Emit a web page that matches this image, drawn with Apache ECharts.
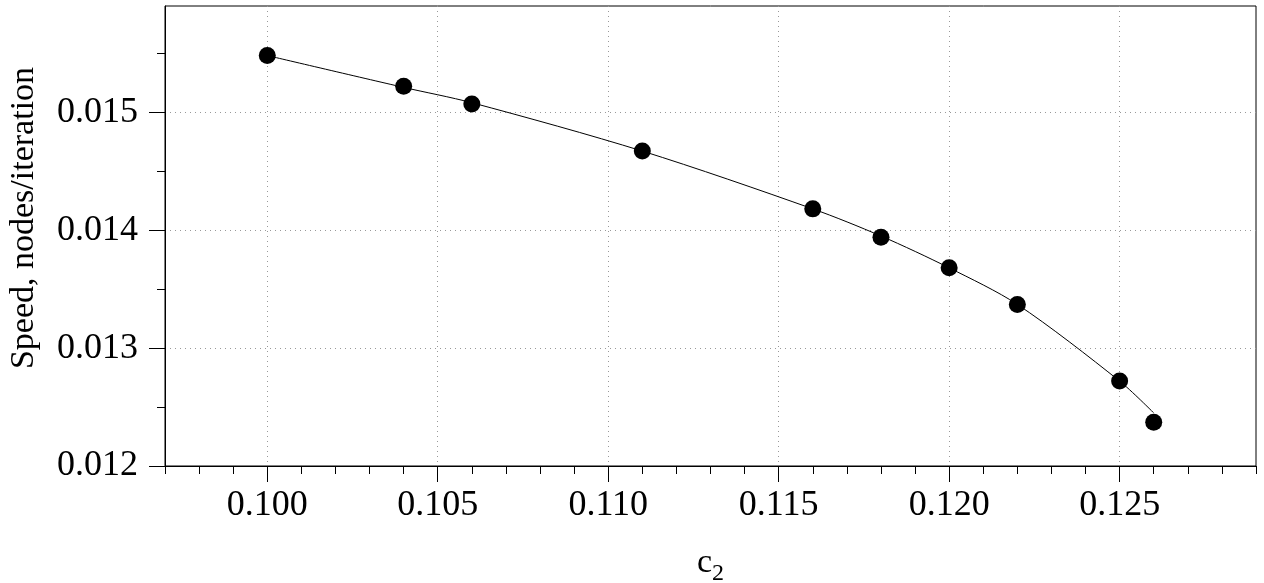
<!DOCTYPE html>
<html>
<head>
<meta charset="utf-8">
<script src="https://cdn.jsdelivr.net/npm/echarts@6/dist/echarts.min.js"></script>
<style>
  html, body { margin: 0; padding: 0; background: #fff; }
  #main { width: 1264px; height: 583px; }
</style>
</head>
<body>
<div id="main"></div>
<script>
// measured points
var c2Values = [0.100, 0.104, 0.106, 0.111, 0.116, 0.118, 0.120, 0.122, 0.125, 0.126];
var speedValues = [0.01548, 0.01522, 0.01507, 0.01467, 0.01418, 0.01394, 0.01368, 0.01337, 0.01272, 0.01237];
// fitted curve
var fitX = [0.100, 0.104, 0.106, 0.111, 0.116, 0.118, 0.120, 0.122, 0.125, 0.126];
var fitY = [0.01548, 0.01521, 0.01508, 0.01467, 0.01418, 0.01395, 0.01368, 0.01337, 0.01272, 0.01245];
// ticks
var xMajorTicks = [0.100, 0.105, 0.110, 0.115, 0.120, 0.125];
var yMajorTicks = [0.012, 0.013, 0.014, 0.015];
var yMinorTicks = [0.0125, 0.0135, 0.0145, 0.0155];

var font = "Liberation Serif";
var chart = echarts.init(document.getElementById("main"));

function pairs(xs, ys) {
  return xs.map(function (x, i) { return [x, ys[i]]; });
}

var splitStyle = { color: "#999", type: [1, 4], width: 1 };

var option = {
  animation: false,
  grid: {
    left: 165, right: 8, top: 6, bottom: 117,
    show: true, borderColor: "#000", borderWidth: 1,
    containLabel: false, outerBoundsMode: "none"
  },
  xAxis: [
    {
      type: "value", min: 0.097, max: 0.129, position: "bottom",
      axisLine: { show: true, lineStyle: { color: "#000", width: 1 } },
      axisTick: { show: true, customValues: xMajorTicks, length: 16, lineStyle: { color: "#000" } },
      axisLabel: {
        customValues: xMajorTicks, margin: 22,
        formatter: function (v) { return v.toFixed(3); },
        fontFamily: font, fontSize: 36, color: "#000"
      },
      splitLine: { show: true, lineStyle: splitStyle },
      name: "{c|c}{sub|2}",
      nameLocation: "middle", nameGap: 80,
      nameTextStyle: {
        rich: {
          c: { fontFamily: font, fontSize: 34, color: "#000", verticalAlign: "top" },
          sub: { fontFamily: font, fontSize: 24, color: "#000", verticalAlign: "bottom", padding: [16, 0, 0, 0] }
        }
      }
    },
    {
      type: "value", min: 0.097, max: 0.129, interval: 0.001, position: "bottom",
      axisLine: { show: false },
      axisTick: { show: true, length: 8, lineStyle: { color: "#000" } },
      axisLabel: { show: false },
      splitLine: { show: false }
    }
  ],
  yAxis: [
    {
      type: "value", min: 0.012, max: 0.0159, position: "left",
      axisLine: { show: true, lineStyle: { color: "#000", width: 1 } },
      axisTick: { show: true, customValues: yMajorTicks, length: 16, lineStyle: { color: "#000" } },
      axisLabel: {
        customValues: yMajorTicks, margin: 27,
        formatter: function (v) { return v.toFixed(3); },
        fontFamily: font, fontSize: 36, color: "#000"
      },
      splitLine: { show: true, lineStyle: splitStyle },
      name: "Speed, nodes/iteration",
      nameLocation: "middle", nameGap: 124,
      nameTextStyle: { fontFamily: font, fontSize: 34, color: "#000", padding: [0, 0, 0, 36] }
    },
    {
      type: "value", min: 0.012, max: 0.0159, position: "left",
      axisLine: { show: false },
      axisTick: { show: true, customValues: yMinorTicks, length: 8, lineStyle: { color: "#000" } },
      axisLabel: { show: false },
      splitLine: { show: false }
    }
  ],
  series: [
    {
      name: "fit", type: "line", xAxisIndex: 0, yAxisIndex: 0,
      data: pairs(fitX, fitY),
      smooth: 0.3, showSymbol: false, symbol: "none",
      lineStyle: { color: "#000", width: 1 }, z: 2
    },
    {
      name: "speed", type: "scatter", xAxisIndex: 0, yAxisIndex: 0,
      data: pairs(c2Values, speedValues),
      symbol: "circle", symbolSize: 17,
      itemStyle: { color: "#000", opacity: 1 }, z: 3
    }
  ]
};
chart.setOption(option);
</script>
</body>
</html>
